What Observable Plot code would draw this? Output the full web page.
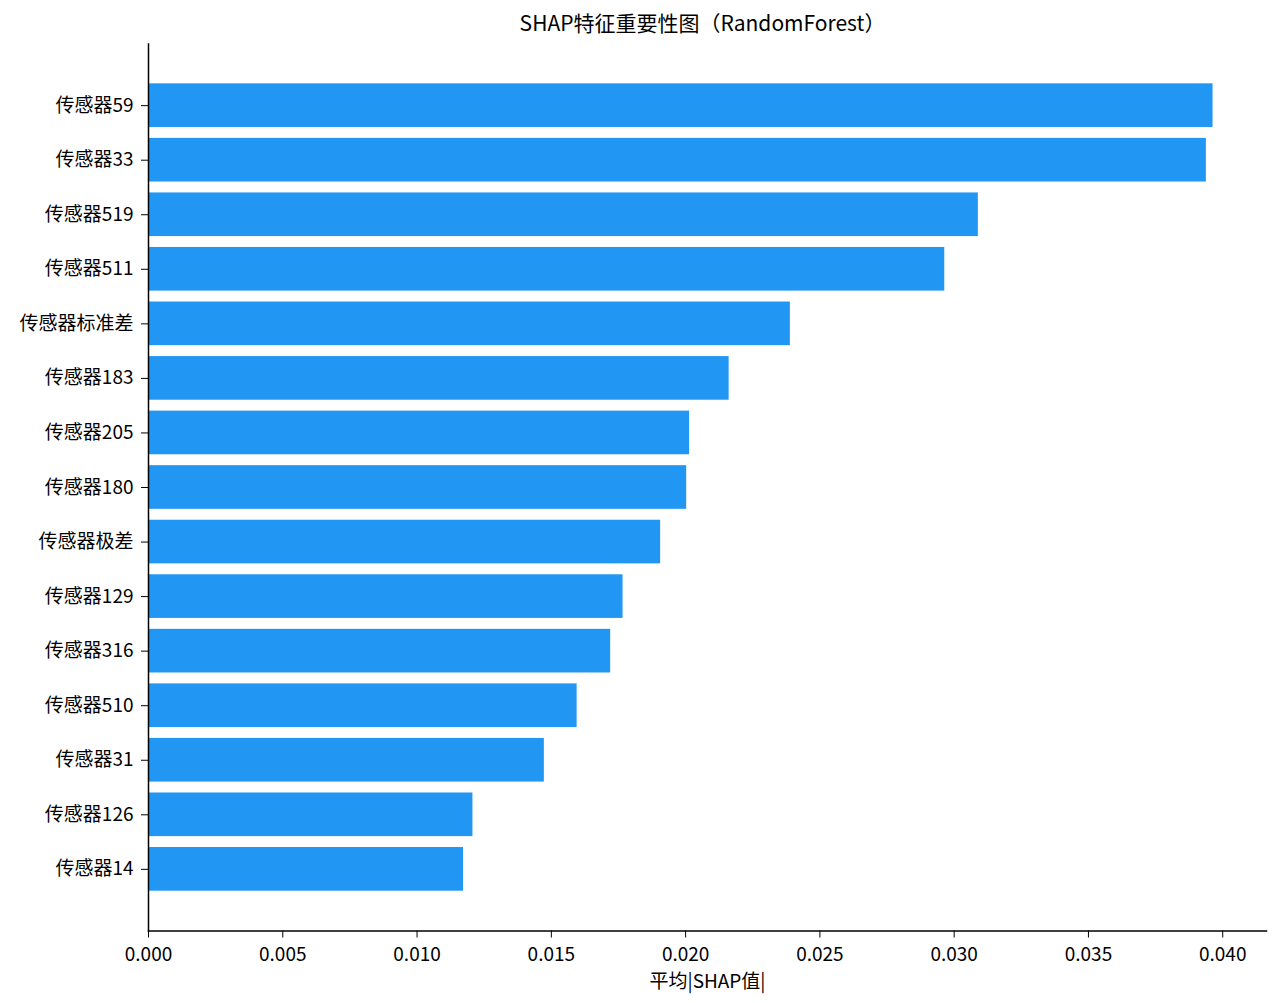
<!DOCTYPE html>
<html>
<head>
<meta charset="utf-8">
<script src="https://cdn.jsdelivr.net/npm/d3@7"></script>
<script src="https://cdn.jsdelivr.net/npm/@observablehq/plot@0.6"></script>
<style>
  html, body { margin: 0; padding: 0; background: #fff; }
  #chart svg { display: block; }
</style>
</head>
<body>
<div id="chart"></div>
<script>
const title = "SHAP特征重要性图（RandomForest）";
const xLabel = "平均|SHAP值|";
const features = ["传感器59", "传感器33", "传感器519", "传感器511", "传感器标准差", "传感器183", "传感器205", "传感器180", "传感器极差", "传感器129", "传感器316", "传感器510", "传感器31", "传感器126", "传感器14"];
const shapValues = [0.03964, 0.03939, 0.03090, 0.02965, 0.02390, 0.02162, 0.02015, 0.02004, 0.01907, 0.01767, 0.01721, 0.01596, 0.01474, 0.01208, 0.01173];
const xTicks = [0, 0.005, 0.010, 0.015, 0.020, 0.025, 0.030, 0.035, 0.040];

const data = features.map((f, i) => ({feature: f, value: shapValues[i]}));
const font = "'Noto Sans CJK SC', 'Noto Sans', sans-serif";

const chart = Plot.plot({
  width: 1280,
  height: 1003,
  marginLeft: 148,
  marginRight: 14,
  marginTop: 43.5,
  marginBottom: 72.5,
  style: {fontFamily: font, fontSize: "19px", color: "#000", background: "#fff"},
  x: {domain: [0, 0.04163]},
  y: {domain: features, paddingInner: 0.2, paddingOuter: 0.73, round: false},
  marks: [
    Plot.barX(data, {x: "value", y: "feature", fill: "#2196f3"}),
    Plot.axisY({tickSize: 7, tickPadding: 8, label: null, fontSize: 19, stroke: "#000"}),
    Plot.axisX({ticks: xTicks, tickFormat: d3.format(".3f"), tickSize: 7, tickPadding: 9, fontSize: 19,
      label: xLabel, labelAnchor: "center", labelArrow: "none", labelOffset: 57}),
    Plot.frame({anchor: "left", stroke: "#000", strokeWidth: 1.5}),
    Plot.frame({anchor: "bottom", stroke: "#000", strokeWidth: 1.5}),
    Plot.text([title], {frameAnchor: "top", dy: -28, dx: -5, fontSize: 21, fill: "#000"})
  ]
});
document.getElementById("chart").appendChild(chart);
</script>
</body>
</html>
